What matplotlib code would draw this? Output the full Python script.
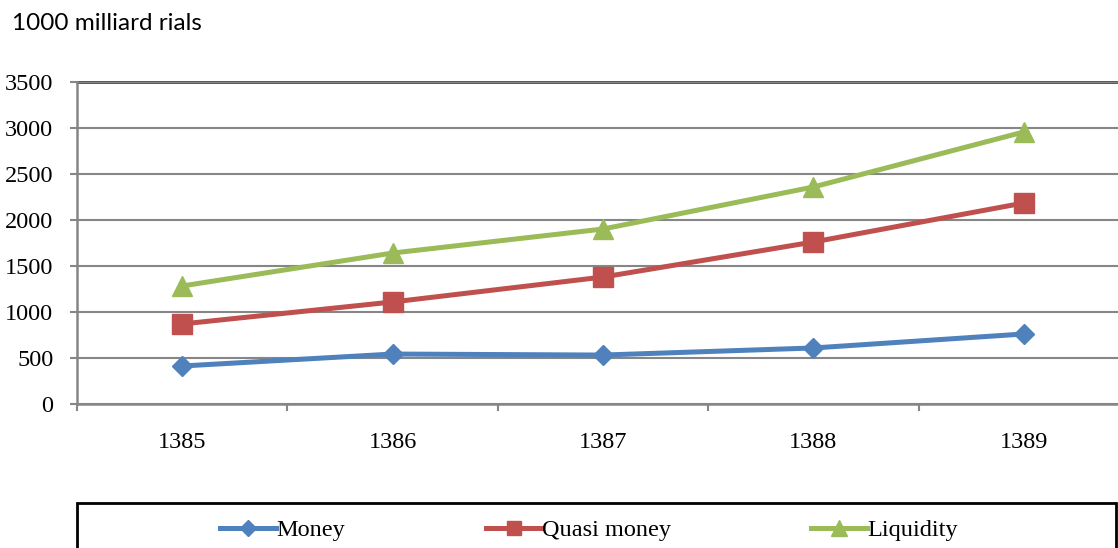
import matplotlib.pyplot as plt
from matplotlib.patches import Rectangle

years = ["1385", "1386", "1387", "1388", "1389"]
money = [413, 543, 532, 609, 761]
quasi_money = [870, 1109, 1380, 1761, 2185]
liquidity = [1283, 1641, 1902, 2359, 2957]

W, H = 1118, 548
fig = plt.figure(figsize=(W / 100, H / 100), dpi=100)
# plot area runs a little past the right edge of the figure
ax = fig.add_axes([77 / W, 1 - 404 / H, (1129 - 77) / W, (404 - 82) / H])

x = [i + 0.5 for i in range(len(years))]
ax.plot(x, money, color="#4F81BD", lw=3.6, marker="D", ms=10.5, label="Money", zorder=3)
ax.plot(x, quasi_money, color="#C0504D", lw=3.6, marker="s", ms=14, label="Quasi money", zorder=3)
ax.plot(x, liquidity, color="#9BBB59", lw=3.6, marker="^", ms=14.5, label="Liquidity", zorder=3)

ax.set_xlim(0, len(years))
ax.set_ylim(0, 3500)
ax.set_yticks(range(0, 3501, 500))
ax.set_xticks(x)
ax.set_xticklabels(years)
ax.set_xticks(range(len(years) + 1), minor=True)

ax.grid(axis="y", color="#868686", lw=1.5, zorder=0)
for s in ["top", "right"]:
    ax.spines[s].set_visible(False)
ax.axhline(3500, color="#222222", lw=1.8, zorder=1, clip_on=False)
for s in ["left", "bottom"]:
    ax.spines[s].set_color("#868686")
    ax.spines[s].set_linewidth(1.8)

serif = "Liberation Serif"
ax.tick_params(axis="y", length=5, width=1.5, color="#868686", pad=12,
               labelsize=17.5)
ax.tick_params(axis="x", which="major", length=0, pad=20, labelsize=17.5)
ax.tick_params(axis="x", which="minor", length=5, width=1.5, color="#868686")
for lab in ax.get_xticklabels() + ax.get_yticklabels():
    lab.set_fontfamily(serif)

fig.text(12 / W, 1 - 24 / H, "1000 milliard rials", fontsize=17.5,
         family="Lato", va="center", ha="left")

# legend box below the plot
fig.patches.append(Rectangle((77 / W, -0.05), (1116 - 77) / W, (0.05 + 1 - 503 / H),
                             transform=fig.transFigure, fill=False,
                             edgecolor="black", lw=2))
fig.legend(loc="center", bbox_to_anchor=(589 / W, 1 - 530 / H), ncol=3,
           frameon=False, prop={"family": serif, "size": 17.5},
           handlelength=2.3, handletextpad=0.0, columnspacing=5.8,
           markerscale=0.75)

fig.savefig("out.png", dpi=100)
